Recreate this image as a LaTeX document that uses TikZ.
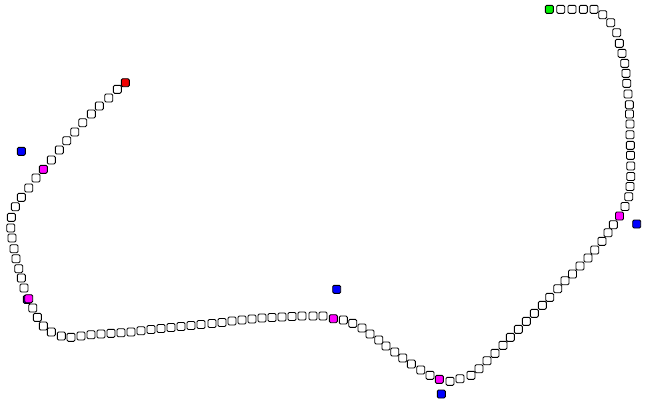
\documentclass[tikz,border=0pt]{standalone}
\usepackage{tikz}

\definecolor{startgreen}{RGB}{0,240,0}
\definecolor{endred}{RGB}{240,0,0}
\definecolor{knotmag}{RGB}{255,0,255}
\definecolor{ctrlblue}{RGB}{0,0,255}

\tikzset{
  dot/.style={draw=black, fill=white, rounded corners=1.3pt, minimum size=8pt, inner sep=0pt, line width=0.9pt},
}

\begin{document}
\begin{tikzpicture}[x=1pt, y=-1pt]
	\useasboundingbox (0,0) rectangle (646,405);
	% control points, drawn first (underneath)
	\foreach \x/\y [count=\i] in {21.3/151.3, 27.3/299.3, 336.7/289.3, 441.3/394, 636.7/224}
		\node[dot, fill=ctrlblue] (c\i) at (\x,\y) {};
	% sampled curve, from start to end
	\foreach \x/\y/\c [count=\i] in {
		549.3/9.3/startgreen, 560.7/9.3/white, 572/9.3/white, 583.3/9.3/white, 594/9.3/white,
		602.7/14.7/white, 610.7/22.7/white, 616.7/32.7/white, 619.3/43.3/white, 622/53.3/white,
		624.7/63.3/white, 626/73.3/white, 626.7/83.3/white, 628/94/white, 629.3/104.7/white,
		629.5/114/white, 630/124/white, 630/134.7/white, 630.3/145.3/white, 630.5/155.3/white,
		630.7/166/white, 630.7/176.5/white, 630/186.5/white, 628.7/196.7/white, 625/206.5/white,
		619.5/216/knotmag, 613.3/224.7/white, 608/232.7/white, 602/241.3/white, 594.7/250/white,
		588/258/white, 580/266/white, 572.5/274/white, 565/280.7/white, 557.7/288.7/white,
		549.7/297.3/white, 542.3/305.3/white, 534.3/313.3/white, 526.3/321.3/white, 518.3/329.3/white,
		510.3/337.3/white, 503/345.3/white, 495/353.3/white, 487/360.7/white, 479/368.7/white,
		471/375.3/white, 460/378.7/white, 450/381.3/white, 439.3/379.3/knotmag, 430/375.3/white,
		420.7/370/white, 411.3/364/white, 402.7/358/white, 394.7/352/white, 386/346/white,
		378.7/340/white, 370/334/white, 362/328/white, 352.7/323.3/white, 343.3/320/white,
		333.3/318.7/knotmag, 323/316/white, 313/316/white, 302/316/white, 292/316.5/white,
		282/317/white, 272/317.5/white, 262/318/white, 252/319/white, 242/320/white,
		232/321/white, 222/322.5/white, 212/323.5/white, 201/324.5/white, 191/325.5/white,
		181/326.5/white, 171/327.5/white, 161/328.5/white, 151/329.5/white, 141/330.7/white,
		131/332/white, 121/332.7/white, 111/333.3/white, 101/334/white, 91/334.7/white,
		81/336/white, 71/337.3/white, 61.3/336/white, 51.3/332/white, 43.3/326/white,
		37.3/317.3/white, 32.7/308/white, 28.7/298.7/knotmag, 24/288/white, 21.3/278/white,
		18.7/268.7/white, 16/258.7/white, 14/248.7/white, 12/238/white, 10.7/228/white,
		11.3/217.3/white, 15.3/206.7/white, 21.3/197.3/white, 28.7/188/white, 36/178/white,
		43.3/169.3/knotmag, 51.3/160/white, 59.3/150/white, 66.7/140.7/white, 74.7/132/white,
		82.7/122.7/white, 91.3/114/white, 99.3/106/white, 108.7/98/white, 117.3/89.3/white,
		125.3/82.7/endred}
		\node[dot, fill=\c] (p\i) at (\x,\y) {};
\end{tikzpicture}
\end{document}
